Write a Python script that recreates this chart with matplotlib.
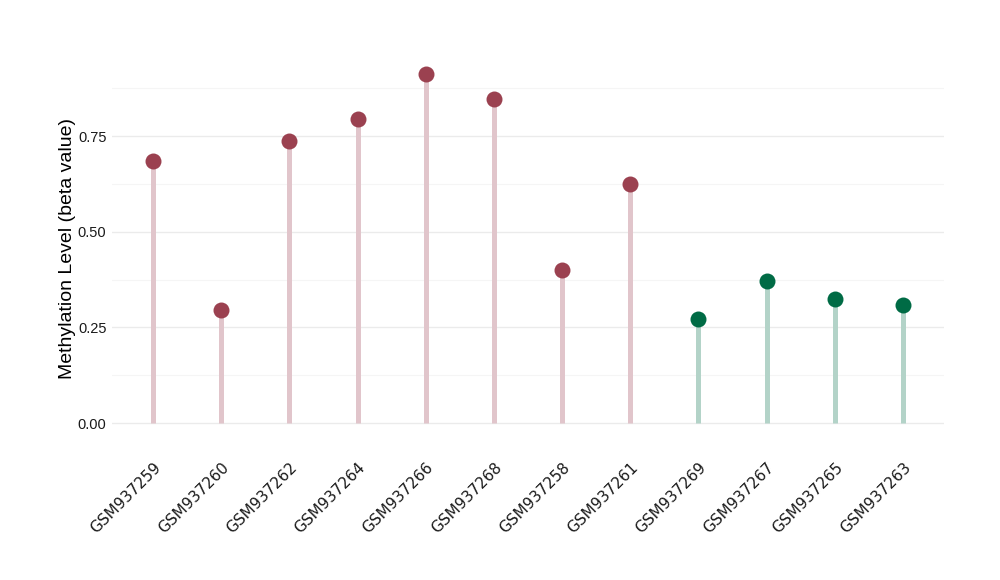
import matplotlib
matplotlib.use("Agg")
import matplotlib.pyplot as plt
import numpy as np

samples = ["GSM937259", "GSM937260", "GSM937262", "GSM937264", "GSM937266", "GSM937268",
           "GSM937258", "GSM937261", "GSM937269", "GSM937267", "GSM937265", "GSM937263"]
beta = [0.685, 0.295, 0.737, 0.794, 0.912, 0.847, 0.400, 0.625, 0.272, 0.371, 0.324, 0.308]
group = ["high"] * 8 + ["low"] * 4

dot_col = {"high": "#9b4150", "low": "#006b45"}
stem_col = {"high": "#e1c5cb", "low": "#b3d3c8"}

fig = plt.figure(figsize=(10, 5.8), dpi=100)
ax = fig.add_axes([0.112, 0.2405, 0.832, 0.662])

x = np.arange(len(samples))
for xi, v, g in zip(x, beta, group):
    ax.plot([xi, xi], [0, v], color=stem_col[g], lw=3.6, solid_capstyle="butt", zorder=2)
    ax.plot(xi, v, "o", ms=11.5, color=dot_col[g], mec="none", zorder=3)

lo, hi = 0, max(beta)
pad = (hi - lo) * 0.05
ax.set_ylim(lo - pad, hi + pad)
ax.set_xlim(-0.6, len(samples) - 1 + 0.6)

ax.set_yticks([0, 0.25, 0.5, 0.75])
ax.set_yticklabels(["0.00", "0.25", "0.50", "0.75"], family="Liberation Sans", fontsize=10.5, color="#1a1a1a")
ax.set_yticks([0.125, 0.375, 0.625, 0.875], minor=True)
ax.grid(axis="y", which="major", color="#ebebeb", lw=1.0)
ax.grid(axis="y", which="minor", color="#f5f5f5", lw=0.8)
ax.set_axisbelow(True)

ax.set_xticks(x)
ax.set_xticklabels(samples, rotation=45, ha="right", rotation_mode="anchor", fontsize=11, color="#1a1a1a")
ax.tick_params(axis="x", length=0, pad=14)
ax.tick_params(axis="y", which="both", length=0, pad=4)

ax.set_ylabel("Methylation Level (beta value)", family="Liberation Sans", fontsize=14, labelpad=1.5)
for s in ax.spines.values():
    s.set_visible(False)

fig.savefig("out.png", dpi=100)
